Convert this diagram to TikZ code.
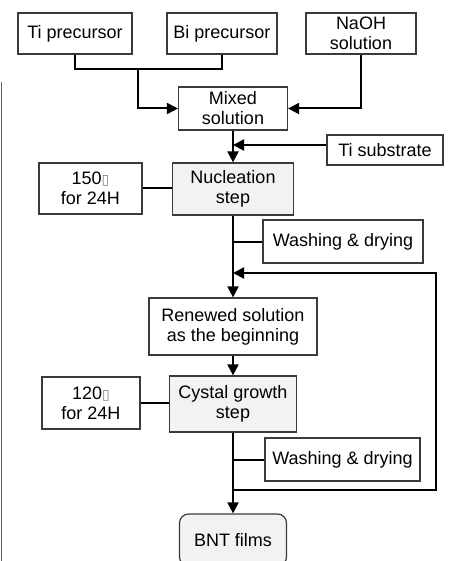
\documentclass[tikz,border=0pt]{standalone}
\usepackage{fontspec}
\setmainfont{Liberation Sans}
\newfontfamily\symfont{DejaVu Sans}
\usetikzlibrary{arrows.meta}
\definecolor{boxline}{HTML}{3A3A3A}
\definecolor{stepfill}{HTML}{F2F2F2}
\newcommand{\degbox}{{\color{gray}\symfont\fontsize{14}{14}\selectfont ▯}}
\tikzset{
  procbox/.style={draw=boxline,line width=1.2pt,fill=white,align=center,inner sep=0pt,
    font=\fontsize{18}{20}\selectfont},
  stepbox/.style={procbox,fill=stepfill},
  flow/.style={line width=2pt,black},
  tip/.style={flow,-{Triangle[length=11pt,width=11pt]}}
}
\begin{document}
\begin{tikzpicture}[x=1pt,y=-1pt]
  \useasboundingbox (0,0) rectangle (448,561);
  \clip (0,0) rectangle (448,561);
  \draw[gray!80!black,line width=1.5pt] (1.5,82) -- (1.5,561);
  \node[procbox,minimum width=114pt,minimum height=41pt] (tipre) at (75,33.5) {Ti precursor};
  \node[procbox,minimum width=110pt,minimum height=41pt] (bipre) at (222,33.5) {Bi precursor};
  \node[procbox,minimum width=110pt,minimum height=41pt] (naoh) at (361,33.5) {NaOH\\solution};
  \node[procbox,minimum width=109pt,minimum height=43pt] (mixed) at (233,108.5) {Mixed\\solution};
  \node[procbox,minimum width=116pt,minimum height=30pt] (tisub) at (385,150) {Ti substrate};
  \node[stepbox,minimum width=121pt,minimum height=52pt] (nucl) at (233,189) {Nucleation\\step};
  \node[procbox,minimum width=103pt,minimum height=51pt] (templo) at (90.5,188.5) {150\degbox\\for 24H};
  \node[procbox,minimum width=160pt,minimum height=43pt] (washa) at (343,241.5) {Washing \& drying};
  \node[procbox,minimum width=168pt,minimum height=57pt] (renew) at (233,326.5) {Renewed solution\\as the beginning};
  \node[stepbox,minimum width=127pt,minimum height=56pt] (growth) at (233,404) {Cystal growth\\step};
  \node[procbox,minimum width=98pt,minimum height=52pt] (temphi) at (91,403) {120\degbox\\for 24H};
  \node[procbox,minimum width=155pt,minimum height=43pt] (washb) at (342.5,459.5) {Washing \& drying};
  \node[stepbox,rounded corners=9pt,minimum width=107pt,minimum height=52pt] (bnt) at (233,540) {BNT films};
  \coordinate (join) at (138,69);
  \coordinate (looptop) at (436,273);
  \coordinate (loopbot) at (436,490);
  \draw[flow] (tipre.south) |- (join) -| (bipre.south);
  \draw[tip] (join) |- (mixed.west);
  \draw[tip] (naoh.south) |- (mixed.east);
  \draw[tip] (mixed.south) -- (nucl.north);
  \draw[tip] ([yshift=5pt]tisub.west) -- ([yshift=5pt]tisub.west -| mixed.south);
  \draw[flow] (templo.east) -- (templo.east -| nucl.west);
  \draw[flow] (washa.west) -- (washa.west -| nucl.south);
  \draw[tip] (nucl.south) -- (renew.north);
  \draw[tip] (loopbot -| growth.south) -- (loopbot) -- (looptop) -- (looptop -| nucl.south);
  \draw[tip] (renew.south) -- (growth.north);
  \draw[flow] (temphi.east) -- (temphi.east -| growth.west);
  \draw[flow] (washb.west) -- (washb.west -| growth.south);
  \draw[tip] (growth.south) -- (bnt.north);
\end{tikzpicture}
\end{document}
